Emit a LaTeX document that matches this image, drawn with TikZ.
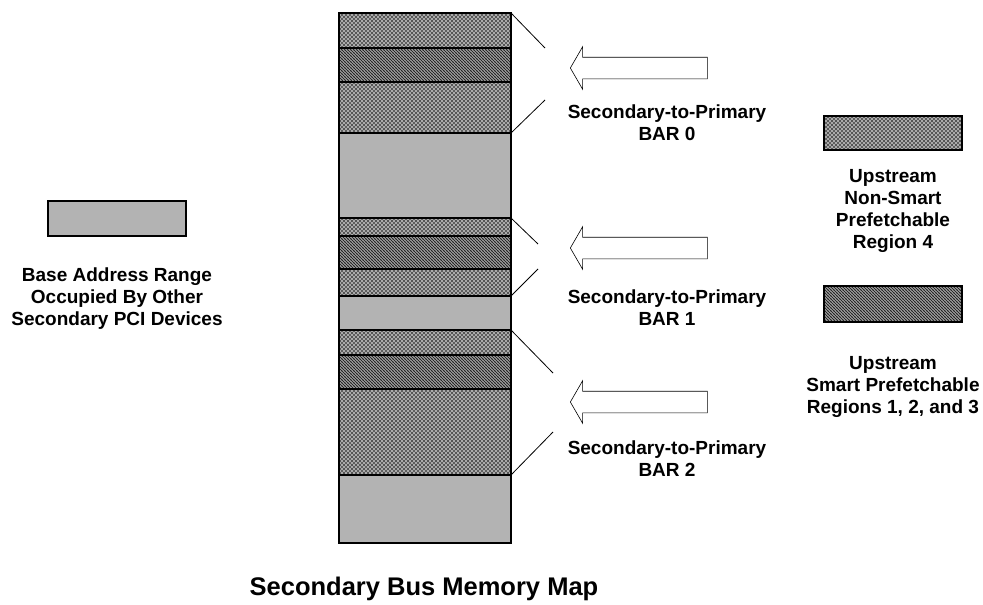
\documentclass[tikz,border=0pt]{standalone}
\usepackage{fontspec}
\setmainfont{Liberation Sans}
\usetikzlibrary{patterns,shapes.arrows}
\definecolor{memgray}{RGB}{179,179,179}
\pgfdeclarepatternformonly{memcross}{\pgfqpoint{-1pt}{-1pt}}{\pgfqpoint{5pt}{5pt}}{\pgfqpoint{4pt}{4pt}}{%
	\pgfsetlinewidth{0.55pt}
	\pgfpathmoveto{\pgfqpoint{-0.5pt}{-0.5pt}}\pgfpathlineto{\pgfqpoint{4.5pt}{4.5pt}}
	\pgfpathmoveto{\pgfqpoint{-0.5pt}{4.5pt}}\pgfpathlineto{\pgfqpoint{4.5pt}{-0.5pt}}
	\pgfusepath{stroke}}
\pgfdeclarepatternformonly{memhatch}{\pgfqpoint{-1pt}{-1pt}}{\pgfqpoint{4pt}{4pt}}{\pgfqpoint{3pt}{3pt}}{%
	\pgfsetlinewidth{1pt}
	\pgfpathmoveto{\pgfqpoint{-0.5pt}{3.5pt}}\pgfpathlineto{\pgfqpoint{3.5pt}{-0.5pt}}
	\pgfusepath{stroke}}

\begin{document}
\begin{tikzpicture}[x=1pt,y=-1pt,
	lbl/.style={font=\bfseries\fontsize{19}{22}\selectfont,align=center},
	band/.style={draw,line width=1.2pt,inner sep=0pt,outer sep=0pt,anchor=north west,minimum width=172pt},
	grayband/.style={band,fill=memgray},
	crossband/.style={band,preaction={fill=memgray},pattern=memcross,pattern color=black!70},
	hatchband/.style={band,preaction={fill=memgray},pattern=memhatch,pattern color=black!85},
	barrow/.style={draw,single arrow,shape border rotate=180,single arrow head extend=10.5pt,
		single arrow tip angle=120,inner sep=10.5pt,minimum height=137pt,line width=0.6pt,anchor=tip}]
	\useasboundingbox (0,0) rectangle (983,605);
	% memory map column
	\node[crossband,minimum height=35pt] (m1) at (339,13) {};
	\node[hatchband,minimum height=34pt] (m2) at (339,48) {};
	\node[crossband,minimum height=51pt] (m3) at (339,82) {};
	\node[grayband,minimum height=85pt] (m4) at (339,133) {};
	\node[crossband,minimum height=18pt] (m5) at (339,218) {};
	\node[hatchband,minimum height=33pt] (m6) at (339,236) {};
	\node[crossband,minimum height=27pt] (m7) at (339,269) {};
	\node[grayband,minimum height=34pt] (m8) at (339,296) {};
	\node[crossband,minimum height=25pt] (m9) at (339,330) {};
	\node[hatchband,minimum height=34pt] (m10) at (339,355) {};
	\node[crossband,minimum height=86pt] (m11) at (339,389) {};
	\node[grayband,minimum height=68pt] (m12) at (339,475) {};
	% BAR windows
	\coordinate (b0top) at (545,48);
	\coordinate (b0bot) at (545,100);
	\coordinate (b1top) at (538,244);
	\coordinate (b1bot) at (538,269);
	\coordinate (b2top) at (553,373);
	\coordinate (b2bot) at (553,432);
	\draw[line width=0.8pt] (m1.north east) -- (b0top);
	\draw[line width=0.8pt] (m3.south east) -- (b0bot);
	\draw[line width=0.8pt] (m5.north east) -- (b1top);
	\draw[line width=0.8pt] (m7.south east) -- (b1bot);
	\draw[line width=0.8pt] (m9.north east) -- (b2top);
	\draw[line width=0.8pt] (m11.south east) -- (b2bot);
	\node[barrow] (arr0) at (570,68) {};
	\node[barrow] (arr1) at (570,248) {};
	\node[barrow] (arr2) at (570,402) {};
	\node[lbl] (bar0) at (667,123) {Secondary-to-Primary\\BAR 0};
	\node[lbl] (bar1) at (667,308) {Secondary-to-Primary\\BAR 1};
	\node[lbl] (bar2) at (667,459) {Secondary-to-Primary\\BAR 2};
	% key
	\node[draw,line width=1.2pt,fill=memgray,inner sep=0pt,minimum width=138pt,minimum height=35pt] (keyother) at (117,218.5) {};
	\node[lbl] (txtother) at (117,299) {Base Address Range\\Occupied By Other\\Secondary PCI Devices};
	\node[crossband,anchor=center,minimum width=138pt,minimum height=34pt] (keynonsmart) at (893,133) {};
	\node[lbl] (txtnonsmart) at (893,211) {Upstream\\Non-Smart\\Prefetchable\\Region 4};
	\node[hatchband,anchor=center,minimum width=138pt,minimum height=36pt] (keysmart) at (893,304) {};
	\node[lbl] (txtsmart) at (893,387) {Upstream\\Smart Prefetchable\\Regions 1, 2, and 3};
	\node[font=\bfseries\fontsize{25.5}{30}\selectfont] (title) at (424,589) {Secondary Bus Memory Map};
\end{tikzpicture}
\end{document}
